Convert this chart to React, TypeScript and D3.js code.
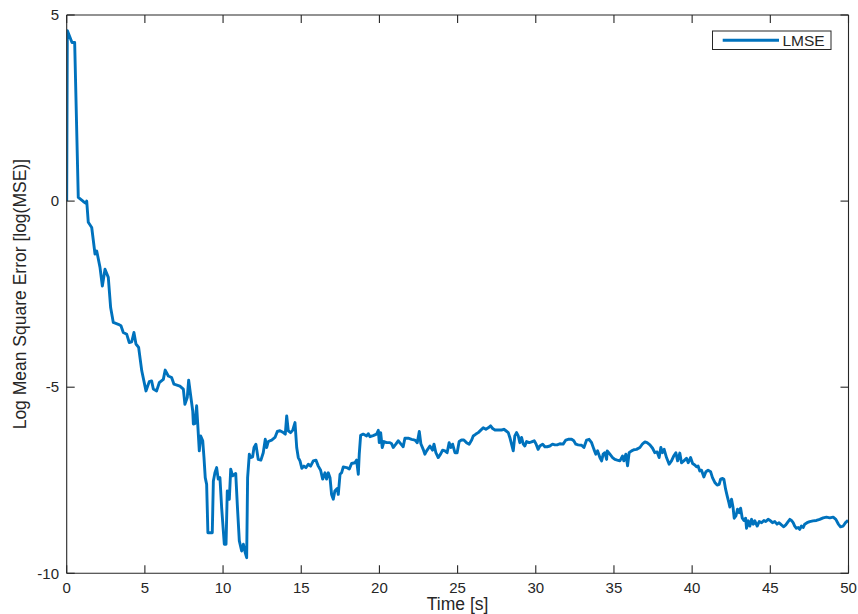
import React from "react";
import * as d3 from "d3";

const timeValues: number[] = [
  0, 0.04, 0.34, 0.51, 0.74, 1.06, 1.23, 1.28, 1.38, 1.6, 1.81, 1.92, 2.13, 2.28, 2.45, 2.66, 2.81, 2.98, 3.3, 3.47,
  3.62, 3.84, 4.0, 4.16, 4.3, 4.43, 4.6, 4.8, 5.07, 5.28, 5.43, 5.54, 5.75, 5.92, 6.18, 6.3, 6.5, 6.71, 6.86, 7.24,
  7.46, 7.56, 7.71, 7.8, 7.93, 8.06, 8.1, 8.2, 8.31, 8.38, 8.48, 8.57, 8.7, 8.78, 8.86, 8.95, 9.03, 9.31, 9.38, 9.48,
  9.59, 9.69, 9.8, 9.91, 10.08, 10.19, 10.27, 10.4, 10.49, 10.61, 10.81, 10.91, 11.04, 11.19, 11.3, 11.42, 11.51, 11.57, 11.68, 11.76,
  11.89, 11.98, 12.1, 12.25, 12.42, 12.57, 12.7, 12.79, 12.89, 13.11, 13.32, 13.47, 13.64, 13.85, 13.98, 14.07, 14.17, 14.32, 14.45, 14.6,
  14.71, 14.81, 14.92, 15.04, 15.17, 15.3, 15.45, 15.6, 15.77, 15.94, 16.09, 16.24, 16.37, 16.52, 16.62, 16.73, 16.84, 16.94, 17.05, 17.15,
  17.3, 17.37, 17.48, 17.58, 17.69, 17.9, 18.07, 18.22, 18.43, 18.54, 18.65, 18.71, 18.8, 18.96, 19.18, 19.29, 19.4, 19.6, 19.82, 19.93,
  19.99, 20.08, 20.18, 20.29, 20.46, 20.67, 20.78, 20.88, 21.05, 21.2, 21.42, 21.52, 21.63, 21.84, 22.06, 22.27, 22.42, 22.55, 22.65, 22.8,
  22.91, 23.02, 23.23, 23.4, 23.49, 23.61, 23.76, 23.91, 24.04, 24.19, 24.33, 24.46, 24.57, 24.68, 24.83, 24.97, 25.1, 25.25, 25.4, 25.57,
  25.74, 25.9, 26.0, 26.17, 26.32, 26.47, 26.64, 26.81, 26.96, 27.11, 27.24, 27.39, 27.6, 27.81, 27.96, 28.09, 28.24, 28.34, 28.45, 28.56,
  28.66, 28.77, 28.88, 28.98, 29.09, 29.2, 29.3, 29.41, 29.58, 29.73, 29.9, 30.01, 30.15, 30.26, 30.44, 30.58, 30.73, 30.9, 31.07, 31.22,
  31.37, 31.54, 31.75, 31.92, 32.07, 32.29, 32.43, 32.56, 32.71, 32.93, 33.08, 33.25, 33.41, 33.57, 33.72, 33.84, 33.95, 34.1, 34.21, 34.31,
  34.42, 34.53, 34.57, 34.74, 34.91, 35.06, 35.21, 35.38, 35.55, 35.63, 35.76, 35.87, 35.97, 36.13, 36.27, 36.44, 36.66, 36.83, 36.98, 37.12,
  37.3, 37.47, 37.61, 37.76, 37.89, 38.0, 38.1, 38.21, 38.36, 38.53, 38.68, 38.82, 38.96, 39.07, 39.21, 39.32, 39.47, 39.64, 39.75, 39.9,
  40.03, 40.17, 40.28, 40.38, 40.49, 40.6, 40.75, 40.88, 41.02, 41.18, 41.3, 41.45, 41.6, 41.73, 41.82, 41.95, 42.03, 42.14, 42.24, 42.35,
  42.41, 42.52, 42.62, 42.69, 42.8, 42.9, 43.01, 43.1, 43.2, 43.31, 43.42, 43.48, 43.59, 43.69, 43.8, 43.91, 44.01, 44.16, 44.29, 44.44,
  44.59, 44.71, 44.86, 45.01, 45.14, 45.29, 45.43, 45.56, 45.71, 45.86, 45.99, 46.14, 46.25, 46.35, 46.46, 46.56, 46.67, 46.78, 46.88, 46.99,
  47.1, 47.2, 47.35, 47.52, 47.73, 47.95, 48.16, 48.38, 48.59, 48.8, 49.02, 49.19, 49.34, 49.49, 49.66, 49.81, 49.97,
];

const lmseValues: number[] = [
  0, 4.58, 4.26, 4.26, 0.1, -0.01, -0.06, 0.0, -0.57, -0.71, -1.42, -1.34, -1.78, -2.28, -1.83, -2.05, -2.86, -3.26, -3.31, -3.35,
  -3.53, -3.58, -3.8, -3.78, -3.53, -3.84, -3.93, -4.56, -5.1, -4.85, -4.83, -5.05, -5.1, -4.88, -4.79, -4.54, -4.7, -4.74, -4.92, -4.97,
  -5.05, -5.46, -5.28, -4.81, -5.23, -5.64, -5.99, -5.98, -5.5, -5.99, -6.71, -6.31, -6.44, -6.89, -7.43, -7.61, -8.91, -8.91, -7.52, -7.3,
  -7.16, -7.47, -7.43, -8.24, -9.22, -9.22, -7.79, -8.01, -7.2, -7.38, -7.32, -8.15, -9.13, -9.4, -9.22, -9.45, -9.58, -7.43, -6.8, -6.89,
  -6.87, -6.62, -6.53, -6.94, -6.96, -6.76, -6.4, -6.62, -6.46, -6.42, -6.35, -6.19, -6.17, -6.22, -6.26, -5.77, -6.17, -6.22, -6.16, -5.95,
  -6.62, -6.89, -6.98, -7.18, -7.12, -7.16, -7.07, -7.12, -6.98, -6.96, -7.12, -7.23, -7.47, -7.3, -7.47, -7.3, -7.43, -7.88, -8.01, -7.79,
  -7.72, -7.88, -7.34, -7.3, -7.14, -7.16, -7.2, -7.05, -7.03, -6.96, -7.34, -6.8, -6.29, -6.26, -6.31, -6.25, -6.33, -6.3, -6.26, -6.16,
  -6.49, -6.22, -6.62, -6.46, -6.49, -6.49, -6.52, -6.62, -6.53, -6.44, -6.55, -6.6, -6.37, -6.37, -6.4, -6.42, -6.49, -6.19, -6.52, -6.67,
  -6.8, -6.71, -6.58, -6.69, -6.53, -6.76, -6.89, -6.8, -6.69, -6.71, -6.76, -6.49, -6.62, -6.53, -6.76, -6.76, -6.46, -6.42, -6.42, -6.49,
  -6.53, -6.42, -6.31, -6.26, -6.22, -6.16, -6.09, -6.13, -6.09, -6.04, -6.11, -6.15, -6.15, -6.15, -6.13, -6.17, -6.22, -6.35, -6.53, -6.71,
  -6.31, -6.22, -6.31, -6.49, -6.35, -6.53, -6.58, -6.46, -6.49, -6.47, -6.44, -6.52, -6.67, -6.58, -6.53, -6.6, -6.6, -6.58, -6.53, -6.55,
  -6.55, -6.52, -6.53, -6.42, -6.4, -6.4, -6.44, -6.53, -6.55, -6.56, -6.62, -6.42, -6.4, -6.49, -6.67, -6.8, -6.71, -6.89, -6.98, -6.8,
  -6.76, -6.94, -6.71, -6.8, -6.89, -6.94, -6.96, -6.98, -6.85, -6.98, -6.8, -7.11, -6.76, -6.71, -6.68, -6.67, -6.62, -6.52, -6.47, -6.49,
  -6.55, -6.64, -6.76, -6.74, -6.89, -6.62, -6.76, -6.67, -6.89, -7.07, -6.98, -6.85, -6.76, -6.98, -6.77, -7.03, -6.98, -6.91, -7.03, -6.89,
  -7.05, -7.09, -7.14, -7.12, -7.25, -7.23, -7.41, -7.27, -7.23, -7.27, -7.43, -7.56, -7.63, -7.61, -7.47, -7.45, -7.47, -7.74, -7.92, -8.1,
  -8.22, -8.01, -8.24, -8.52, -8.46, -8.28, -8.37, -8.25, -8.51, -8.58, -8.52, -8.79, -8.59, -8.73, -8.55, -8.68, -8.59, -8.73, -8.61, -8.64,
  -8.58, -8.61, -8.55, -8.59, -8.64, -8.61, -8.68, -8.64, -8.7, -8.75, -8.7, -8.61, -8.55, -8.58, -8.64, -8.73, -8.79, -8.77, -8.82, -8.73,
  -8.77, -8.68, -8.64, -8.61, -8.59, -8.58, -8.55, -8.51, -8.49, -8.51, -8.49, -8.55, -8.67, -8.75, -8.73, -8.64, -8.58,
];

const xTicks: number[] = [0, 5, 10, 15, 20, 25, 30, 35, 40, 45, 50];
const yTicks: number[] = [5, 0, -5, -10];
const seriesName = "LMSE";
const xLabel = "Time [s]";
const yLabel = "Log Mean Square Error [log(MSE)]";

const W = 858;
const H = 614;
const left = 66.7;
const right = 848.5;
const top = 15;
const bottom = 573.3;
const axisColor = "#262626";
const lineColor = "#0072BD";
const font = "'Liberation Sans', Arial, Helvetica, sans-serif";
const tickLen = 8;

export default function App() {
  const x = d3.scaleLinear().domain([0, 50]).range([left, right]);
  const y = d3.scaleLinear().domain([-10, 5]).range([bottom, top]);
  const data = timeValues.map((t, i) => [t, lmseValues[i]] as [number, number]);
  const line = d3
    .line<[number, number]>()
    .x((d) => x(d[0]))
    .y((d) => y(d[1]));

  return (
    <svg
      width={W}
      height={H}
      style={{ position: "absolute", left: 0, top: 0, background: "#fff" }}
      fontFamily={font}
    >
      <rect x={0} y={0} width={W} height={H} fill="#fff" />
      <defs>
        <clipPath id="plotClip">
          <rect x={left} y={top} width={right - left} height={bottom - top} />
        </clipPath>
      </defs>
      <path
        d={line(data) || ""}
        fill="none"
        stroke={lineColor}
        strokeWidth={2.9}
        strokeLinejoin="round"
        clipPath="url(#plotClip)"
      />
      <g stroke={axisColor} strokeWidth={1.1} fill="none">
        <line x1={left} x2={right} y1={bottom} y2={bottom} />
        <line x1={left} x2={right} y1={top} y2={top} />
        <line x1={left} x2={left} y1={top} y2={bottom} />
        <line x1={right} x2={right} y1={top} y2={bottom} />
        {xTicks.map((t) => (
          <g key={"xt" + t}>
            <line x1={x(t)} x2={x(t)} y1={bottom} y2={bottom - tickLen} />
            <line x1={x(t)} x2={x(t)} y1={top} y2={top + tickLen} />
          </g>
        ))}
        {yTicks.map((t) => (
          <g key={"yt" + t}>
            <line x1={left} x2={left + tickLen} y1={y(t)} y2={y(t)} />
            <line x1={right} x2={right - tickLen} y1={y(t)} y2={y(t)} />
          </g>
        ))}
      </g>
      <g fill={axisColor} fontSize={15}>
        {xTicks.map((t) => (
          <text key={"xl" + t} x={x(t)} y={593} textAnchor="middle">
            {t}
          </text>
        ))}
        {yTicks.map((t) => (
          <text key={"yl" + t} x={59} y={y(t)} dy="0.35em" textAnchor="end">
            {t}
          </text>
        ))}
      </g>
      <text x={(left + right) / 2} y={610} textAnchor="middle" fontSize={17.5} fill={axisColor}>
        {xLabel}
      </text>
      <text
        transform={`translate(26,${(top + bottom) / 2}) rotate(-90)`}
        textAnchor="middle"
        fontSize={17.5}
        fill={axisColor}
      >
        {yLabel}
      </text>
      <g>
        <rect x={712.5} y={31} width={118.5} height={18.5} fill="#fff" stroke={axisColor} strokeWidth={1} />
        <line x1={722.7} x2={779} y1={40.3} y2={40.3} stroke={lineColor} strokeWidth={2.9} />
        <text x={782.5} y={45.8} fontSize={15.5} fill={axisColor}>
          {seriesName}
        </text>
      </g>
    </svg>
  );
}
